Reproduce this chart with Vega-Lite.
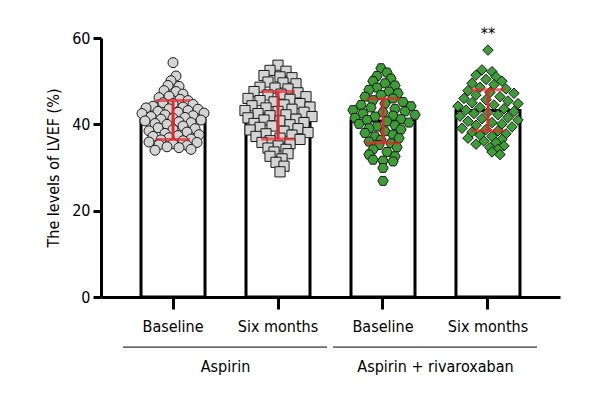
{
  "$schema": "https://vega.github.io/schema/vega-lite/v6.json",
  "autosize": {"type": "none"},
  "padding": {"left": 101, "top": 38, "right": 40, "bottom": 103},
  "width": 459,
  "height": 259,
  "background": "white",
  "config": {
    "font": "Liberation Sans Narrow, DejaVu Sans Condensed, sans-serif",
    "view": {"stroke": null},
    "axis": {
      "domainWidth": 3, "domainColor": "black", "tickWidth": 3, "tickColor": "black",
      "labelColor": "black", "titleColor": "black", "grid": false,
      "labelFont": "Liberation Sans Narrow, DejaVu Sans Condensed, sans-serif",
      "titleFont": "Liberation Sans Narrow, DejaVu Sans Condensed, sans-serif"
    }
  },
  "datasets": {
    "pts": [
      {"grp": "Aspirin|Baseline", "v": 54.3, "dx": 0},
      {"grp": "Aspirin|Baseline", "v": 51.2, "dx": 3},
      {"grp": "Aspirin|Baseline", "v": 50.1, "dx": -2},
      {"grp": "Aspirin|Baseline", "v": 49.0, "dx": -5},
      {"grp": "Aspirin|Baseline", "v": 48.8, "dx": 6},
      {"grp": "Aspirin|Baseline", "v": 47.8, "dx": -9},
      {"grp": "Aspirin|Baseline", "v": 47.6, "dx": 3},
      {"grp": "Aspirin|Baseline", "v": 47.0, "dx": 10},
      {"grp": "Aspirin|Baseline", "v": 46.5, "dx": -4},
      {"grp": "Aspirin|Baseline", "v": 46.2, "dx": -14},
      {"grp": "Aspirin|Baseline", "v": 45.8, "dx": 7},
      {"grp": "Aspirin|Baseline", "v": 45.5, "dx": 15},
      {"grp": "Aspirin|Baseline", "v": 45.0, "dx": -10},
      {"grp": "Aspirin|Baseline", "v": 44.8, "dx": 0},
      {"grp": "Aspirin|Baseline", "v": 44.6, "dx": 20},
      {"grp": "Aspirin|Baseline", "v": 44.2, "dx": -20},
      {"grp": "Aspirin|Baseline", "v": 44.0, "dx": 10},
      {"grp": "Aspirin|Baseline", "v": 43.8, "dx": -27},
      {"grp": "Aspirin|Baseline", "v": 43.6, "dx": -4},
      {"grp": "Aspirin|Baseline", "v": 43.5, "dx": 25},
      {"grp": "Aspirin|Baseline", "v": 43.2, "dx": 15},
      {"grp": "Aspirin|Baseline", "v": 43.0, "dx": -15},
      {"grp": "Aspirin|Baseline", "v": 42.8, "dx": 5},
      {"grp": "Aspirin|Baseline", "v": 42.6, "dx": 31},
      {"grp": "Aspirin|Baseline", "v": 42.5, "dx": -31},
      {"grp": "Aspirin|Baseline", "v": 42.2, "dx": -8},
      {"grp": "Aspirin|Baseline", "v": 42.0, "dx": 20},
      {"grp": "Aspirin|Baseline", "v": 41.8, "dx": -22},
      {"grp": "Aspirin|Baseline", "v": 41.6, "dx": 12},
      {"grp": "Aspirin|Baseline", "v": 41.4, "dx": 0},
      {"grp": "Aspirin|Baseline", "v": 41.2, "dx": -12},
      {"grp": "Aspirin|Baseline", "v": 41.0, "dx": 28},
      {"grp": "Aspirin|Baseline", "v": 40.8, "dx": -28},
      {"grp": "Aspirin|Baseline", "v": 40.6, "dx": 6},
      {"grp": "Aspirin|Baseline", "v": 40.4, "dx": 18},
      {"grp": "Aspirin|Baseline", "v": 40.2, "dx": -18},
      {"grp": "Aspirin|Baseline", "v": 40.0, "dx": -6},
      {"grp": "Aspirin|Baseline", "v": 39.6, "dx": 10},
      {"grp": "Aspirin|Baseline", "v": 39.2, "dx": -15},
      {"grp": "Aspirin|Baseline", "v": 39.0, "dx": 22},
      {"grp": "Aspirin|Baseline", "v": 38.8, "dx": 0},
      {"grp": "Aspirin|Baseline", "v": 38.5, "dx": -24},
      {"grp": "Aspirin|Baseline", "v": 38.2, "dx": 14},
      {"grp": "Aspirin|Baseline", "v": 37.9, "dx": -8},
      {"grp": "Aspirin|Baseline", "v": 37.6, "dx": 26},
      {"grp": "Aspirin|Baseline", "v": 37.4, "dx": 5},
      {"grp": "Aspirin|Baseline", "v": 37.2, "dx": -20},
      {"grp": "Aspirin|Baseline", "v": 36.9, "dx": -4},
      {"grp": "Aspirin|Baseline", "v": 36.6, "dx": 18},
      {"grp": "Aspirin|Baseline", "v": 36.4, "dx": -12},
      {"grp": "Aspirin|Baseline", "v": 36.2, "dx": 10},
      {"grp": "Aspirin|Baseline", "v": 35.9, "dx": -24},
      {"grp": "Aspirin|Baseline", "v": 35.8, "dx": 24},
      {"grp": "Aspirin|Baseline", "v": 35.5, "dx": 0},
      {"grp": "Aspirin|Baseline", "v": 35.3, "dx": -14},
      {"grp": "Aspirin|Baseline", "v": 35.1, "dx": 14},
      {"grp": "Aspirin|Baseline", "v": 34.8, "dx": -6},
      {"grp": "Aspirin|Baseline", "v": 34.6, "dx": 6},
      {"grp": "Aspirin|Baseline", "v": 34.2, "dx": 18},
      {"grp": "Aspirin|Baseline", "v": 34.0, "dx": -18},

      {"grp": "Aspirin|Six months", "v": 53.7, "dx": 0},
      {"grp": "Aspirin|Six months", "v": 52.5, "dx": -8},
      {"grp": "Aspirin|Six months", "v": 52.3, "dx": 8},
      {"grp": "Aspirin|Six months", "v": 51.3, "dx": -14},
      {"grp": "Aspirin|Six months", "v": 51.0, "dx": 2},
      {"grp": "Aspirin|Six months", "v": 50.8, "dx": 14},
      {"grp": "Aspirin|Six months", "v": 49.8, "dx": -10},
      {"grp": "Aspirin|Six months", "v": 49.6, "dx": 5},
      {"grp": "Aspirin|Six months", "v": 49.4, "dx": 18},
      {"grp": "Aspirin|Six months", "v": 48.6, "dx": -18},
      {"grp": "Aspirin|Six months", "v": 48.4, "dx": -3},
      {"grp": "Aspirin|Six months", "v": 48.2, "dx": 10},
      {"grp": "Aspirin|Six months", "v": 47.6, "dx": -24},
      {"grp": "Aspirin|Six months", "v": 47.3, "dx": 20},
      {"grp": "Aspirin|Six months", "v": 47.0, "dx": 3},
      {"grp": "Aspirin|Six months", "v": 46.8, "dx": -10},
      {"grp": "Aspirin|Six months", "v": 46.4, "dx": 28},
      {"grp": "Aspirin|Six months", "v": 46.0, "dx": -30},
      {"grp": "Aspirin|Six months", "v": 45.8, "dx": 12},
      {"grp": "Aspirin|Six months", "v": 45.5, "dx": -18},
      {"grp": "Aspirin|Six months", "v": 45.2, "dx": -4},
      {"grp": "Aspirin|Six months", "v": 44.8, "dx": 22},
      {"grp": "Aspirin|Six months", "v": 44.5, "dx": 6},
      {"grp": "Aspirin|Six months", "v": 44.3, "dx": -26},
      {"grp": "Aspirin|Six months", "v": 44.0, "dx": 32},
      {"grp": "Aspirin|Six months", "v": 43.8, "dx": -12},
      {"grp": "Aspirin|Six months", "v": 43.5, "dx": 14},
      {"grp": "Aspirin|Six months", "v": 43.2, "dx": -33},
      {"grp": "Aspirin|Six months", "v": 43.0, "dx": 0},
      {"grp": "Aspirin|Six months", "v": 42.8, "dx": 26},
      {"grp": "Aspirin|Six months", "v": 42.5, "dx": -20},
      {"grp": "Aspirin|Six months", "v": 42.2, "dx": 8},
      {"grp": "Aspirin|Six months", "v": 42.0, "dx": -8},
      {"grp": "Aspirin|Six months", "v": 41.8, "dx": 34},
      {"grp": "Aspirin|Six months", "v": 41.5, "dx": -30},
      {"grp": "Aspirin|Six months", "v": 41.2, "dx": 18},
      {"grp": "Aspirin|Six months", "v": 41.0, "dx": -14},
      {"grp": "Aspirin|Six months", "v": 40.8, "dx": 2},
      {"grp": "Aspirin|Six months", "v": 40.4, "dx": 26},
      {"grp": "Aspirin|Six months", "v": 40.2, "dx": -24},
      {"grp": "Aspirin|Six months", "v": 39.9, "dx": 12},
      {"grp": "Aspirin|Six months", "v": 39.6, "dx": -6},
      {"grp": "Aspirin|Six months", "v": 39.3, "dx": -18},
      {"grp": "Aspirin|Six months", "v": 39.0, "dx": 20},
      {"grp": "Aspirin|Six months", "v": 38.7, "dx": -28},
      {"grp": "Aspirin|Six months", "v": 38.4, "dx": 6},
      {"grp": "Aspirin|Six months", "v": 38.1, "dx": 30},
      {"grp": "Aspirin|Six months", "v": 37.8, "dx": -12},
      {"grp": "Aspirin|Six months", "v": 37.5, "dx": 14},
      {"grp": "Aspirin|Six months", "v": 37.2, "dx": -22},
      {"grp": "Aspirin|Six months", "v": 36.8, "dx": 2},
      {"grp": "Aspirin|Six months", "v": 36.5, "dx": 22},
      {"grp": "Aspirin|Six months", "v": 36.2, "dx": -8},
      {"grp": "Aspirin|Six months", "v": 35.8, "dx": -16},
      {"grp": "Aspirin|Six months", "v": 35.5, "dx": 12},
      {"grp": "Aspirin|Six months", "v": 35.0, "dx": 0},
      {"grp": "Aspirin|Six months", "v": 34.5, "dx": -10},
      {"grp": "Aspirin|Six months", "v": 34.2, "dx": 8},
      {"grp": "Aspirin|Six months", "v": 33.6, "dx": -4},
      {"grp": "Aspirin|Six months", "v": 33.2, "dx": 10},
      {"grp": "Aspirin|Six months", "v": 32.6, "dx": -8},
      {"grp": "Aspirin|Six months", "v": 32.0, "dx": 4},
      {"grp": "Aspirin|Six months", "v": 31.2, "dx": -2},
      {"grp": "Aspirin|Six months", "v": 30.3, "dx": 6},
      {"grp": "Aspirin|Six months", "v": 29.0, "dx": 2},

      {"grp": "Aspirin + rivaroxaban|Baseline", "v": 53.0, "dx": -2},
      {"grp": "Aspirin + rivaroxaban|Baseline", "v": 52.0, "dx": 4},
      {"grp": "Aspirin + rivaroxaban|Baseline", "v": 51.2, "dx": -6},
      {"grp": "Aspirin + rivaroxaban|Baseline", "v": 50.6, "dx": 8},
      {"grp": "Aspirin + rivaroxaban|Baseline", "v": 50.0, "dx": -10},
      {"grp": "Aspirin + rivaroxaban|Baseline", "v": 49.5, "dx": 2},
      {"grp": "Aspirin + rivaroxaban|Baseline", "v": 49.0, "dx": 12},
      {"grp": "Aspirin + rivaroxaban|Baseline", "v": 48.5, "dx": -6},
      {"grp": "Aspirin + rivaroxaban|Baseline", "v": 48.0, "dx": -14},
      {"grp": "Aspirin + rivaroxaban|Baseline", "v": 47.6, "dx": 6},
      {"grp": "Aspirin + rivaroxaban|Baseline", "v": 47.2, "dx": 15},
      {"grp": "Aspirin + rivaroxaban|Baseline", "v": 46.8, "dx": -2},
      {"grp": "Aspirin + rivaroxaban|Baseline", "v": 46.4, "dx": -18},
      {"grp": "Aspirin + rivaroxaban|Baseline", "v": 46.0, "dx": 10},
      {"grp": "Aspirin + rivaroxaban|Baseline", "v": 45.6, "dx": -10},
      {"grp": "Aspirin + rivaroxaban|Baseline", "v": 45.2, "dx": 20},
      {"grp": "Aspirin + rivaroxaban|Baseline", "v": 44.8, "dx": 2},
      {"grp": "Aspirin + rivaroxaban|Baseline", "v": 44.5, "dx": -22},
      {"grp": "Aspirin + rivaroxaban|Baseline", "v": 44.2, "dx": 28},
      {"grp": "Aspirin + rivaroxaban|Baseline", "v": 43.9, "dx": -12},
      {"grp": "Aspirin + rivaroxaban|Baseline", "v": 43.6, "dx": 12},
      {"grp": "Aspirin + rivaroxaban|Baseline", "v": 43.3, "dx": -30},
      {"grp": "Aspirin + rivaroxaban|Baseline", "v": 43.0, "dx": 22},
      {"grp": "Aspirin + rivaroxaban|Baseline", "v": 42.8, "dx": 0},
      {"grp": "Aspirin + rivaroxaban|Baseline", "v": 42.5, "dx": -20},
      {"grp": "Aspirin + rivaroxaban|Baseline", "v": 42.2, "dx": 32},
      {"grp": "Aspirin + rivaroxaban|Baseline", "v": 42.0, "dx": 10},
      {"grp": "Aspirin + rivaroxaban|Baseline", "v": 41.8, "dx": -8},
      {"grp": "Aspirin + rivaroxaban|Baseline", "v": 41.5, "dx": -28},
      {"grp": "Aspirin + rivaroxaban|Baseline", "v": 41.2, "dx": 18},
      {"grp": "Aspirin + rivaroxaban|Baseline", "v": 41.0, "dx": -16},
      {"grp": "Aspirin + rivaroxaban|Baseline", "v": 40.7, "dx": 4},
      {"grp": "Aspirin + rivaroxaban|Baseline", "v": 40.4, "dx": 26},
      {"grp": "Aspirin + rivaroxaban|Baseline", "v": 40.1, "dx": -24},
      {"grp": "Aspirin + rivaroxaban|Baseline", "v": 39.8, "dx": 12},
      {"grp": "Aspirin + rivaroxaban|Baseline", "v": 39.5, "dx": -6},
      {"grp": "Aspirin + rivaroxaban|Baseline", "v": 39.1, "dx": -14},
      {"grp": "Aspirin + rivaroxaban|Baseline", "v": 38.8, "dx": 18},
      {"grp": "Aspirin + rivaroxaban|Baseline", "v": 38.4, "dx": 2},
      {"grp": "Aspirin + rivaroxaban|Baseline", "v": 38.0, "dx": -18},
      {"grp": "Aspirin + rivaroxaban|Baseline", "v": 37.6, "dx": 10},
      {"grp": "Aspirin + rivaroxaban|Baseline", "v": 37.2, "dx": -8},
      {"grp": "Aspirin + rivaroxaban|Baseline", "v": 36.8, "dx": 16},
      {"grp": "Aspirin + rivaroxaban|Baseline", "v": 36.4, "dx": -2},
      {"grp": "Aspirin + rivaroxaban|Baseline", "v": 36.0, "dx": -14},
      {"grp": "Aspirin + rivaroxaban|Baseline", "v": 35.6, "dx": 8},
      {"grp": "Aspirin + rivaroxaban|Baseline", "v": 35.2, "dx": -4},
      {"grp": "Aspirin + rivaroxaban|Baseline", "v": 34.7, "dx": 14},
      {"grp": "Aspirin + rivaroxaban|Baseline", "v": 34.2, "dx": -10},
      {"grp": "Aspirin + rivaroxaban|Baseline", "v": 33.6, "dx": 4},
      {"grp": "Aspirin + rivaroxaban|Baseline", "v": 33.0, "dx": -14},
      {"grp": "Aspirin + rivaroxaban|Baseline", "v": 32.6, "dx": 12},
      {"grp": "Aspirin + rivaroxaban|Baseline", "v": 31.8, "dx": -10},
      {"grp": "Aspirin + rivaroxaban|Baseline", "v": 31.6, "dx": 0},
      {"grp": "Aspirin + rivaroxaban|Baseline", "v": 31.4, "dx": 10},
      {"grp": "Aspirin + rivaroxaban|Baseline", "v": 29.9, "dx": 0},
      {"grp": "Aspirin + rivaroxaban|Baseline", "v": 26.9, "dx": 0},

      {"grp": "Aspirin + rivaroxaban|Six months", "v": 57.2, "dx": 0},
      {"grp": "Aspirin + rivaroxaban|Six months", "v": 52.6, "dx": -6},
      {"grp": "Aspirin + rivaroxaban|Six months", "v": 52.2, "dx": 4},
      {"grp": "Aspirin + rivaroxaban|Six months", "v": 51.4, "dx": -12},
      {"grp": "Aspirin + rivaroxaban|Six months", "v": 51.0, "dx": 8},
      {"grp": "Aspirin + rivaroxaban|Six months", "v": 50.4, "dx": -2},
      {"grp": "Aspirin + rivaroxaban|Six months", "v": 50.0, "dx": 14},
      {"grp": "Aspirin + rivaroxaban|Six months", "v": 49.5, "dx": -16},
      {"grp": "Aspirin + rivaroxaban|Six months", "v": 49.2, "dx": 6},
      {"grp": "Aspirin + rivaroxaban|Six months", "v": 48.6, "dx": -8},
      {"grp": "Aspirin + rivaroxaban|Six months", "v": 48.2, "dx": 18},
      {"grp": "Aspirin + rivaroxaban|Six months", "v": 47.8, "dx": -20},
      {"grp": "Aspirin + rivaroxaban|Six months", "v": 47.4, "dx": 2},
      {"grp": "Aspirin + rivaroxaban|Six months", "v": 47.2, "dx": 26},
      {"grp": "Aspirin + rivaroxaban|Six months", "v": 46.8, "dx": -12},
      {"grp": "Aspirin + rivaroxaban|Six months", "v": 46.4, "dx": 12},
      {"grp": "Aspirin + rivaroxaban|Six months", "v": 46.0, "dx": -24},
      {"grp": "Aspirin + rivaroxaban|Six months", "v": 45.7, "dx": -2},
      {"grp": "Aspirin + rivaroxaban|Six months", "v": 45.4, "dx": 20},
      {"grp": "Aspirin + rivaroxaban|Six months", "v": 45.0, "dx": -16},
      {"grp": "Aspirin + rivaroxaban|Six months", "v": 44.8, "dx": 30},
      {"grp": "Aspirin + rivaroxaban|Six months", "v": 44.5, "dx": 6},
      {"grp": "Aspirin + rivaroxaban|Six months", "v": 44.2, "dx": -30},
      {"grp": "Aspirin + rivaroxaban|Six months", "v": 43.9, "dx": -8},
      {"grp": "Aspirin + rivaroxaban|Six months", "v": 43.6, "dx": 16},
      {"grp": "Aspirin + rivaroxaban|Six months", "v": 43.3, "dx": -22},
      {"grp": "Aspirin + rivaroxaban|Six months", "v": 43.0, "dx": 26},
      {"grp": "Aspirin + rivaroxaban|Six months", "v": 42.8, "dx": 0},
      {"grp": "Aspirin + rivaroxaban|Six months", "v": 42.5, "dx": -14},
      {"grp": "Aspirin + rivaroxaban|Six months", "v": 42.2, "dx": 10},
      {"grp": "Aspirin + rivaroxaban|Six months", "v": 41.9, "dx": -28},
      {"grp": "Aspirin + rivaroxaban|Six months", "v": 41.6, "dx": 20},
      {"grp": "Aspirin + rivaroxaban|Six months", "v": 41.3, "dx": -6},
      {"grp": "Aspirin + rivaroxaban|Six months", "v": 41.0, "dx": 30},
      {"grp": "Aspirin + rivaroxaban|Six months", "v": 40.7, "dx": -20},
      {"grp": "Aspirin + rivaroxaban|Six months", "v": 40.4, "dx": 4},
      {"grp": "Aspirin + rivaroxaban|Six months", "v": 40.1, "dx": 14},
      {"grp": "Aspirin + rivaroxaban|Six months", "v": 39.8, "dx": -12},
      {"grp": "Aspirin + rivaroxaban|Six months", "v": 39.4, "dx": 24},
      {"grp": "Aspirin + rivaroxaban|Six months", "v": 39.1, "dx": -26},
      {"grp": "Aspirin + rivaroxaban|Six months", "v": 38.8, "dx": -2},
      {"grp": "Aspirin + rivaroxaban|Six months", "v": 38.5, "dx": 10},
      {"grp": "Aspirin + rivaroxaban|Six months", "v": 38.2, "dx": -16},
      {"grp": "Aspirin + rivaroxaban|Six months", "v": 37.8, "dx": 18},
      {"grp": "Aspirin + rivaroxaban|Six months", "v": 37.5, "dx": -8},
      {"grp": "Aspirin + rivaroxaban|Six months", "v": 37.2, "dx": 4},
      {"grp": "Aspirin + rivaroxaban|Six months", "v": 36.8, "dx": -20},
      {"grp": "Aspirin + rivaroxaban|Six months", "v": 36.5, "dx": 14},
      {"grp": "Aspirin + rivaroxaban|Six months", "v": 36.1, "dx": -4},
      {"grp": "Aspirin + rivaroxaban|Six months", "v": 35.8, "dx": 8},
      {"grp": "Aspirin + rivaroxaban|Six months", "v": 35.4, "dx": -12},
      {"grp": "Aspirin + rivaroxaban|Six months", "v": 35.0, "dx": 16},
      {"grp": "Aspirin + rivaroxaban|Six months", "v": 34.6, "dx": 2},
      {"grp": "Aspirin + rivaroxaban|Six months", "v": 34.2, "dx": 10},
      {"grp": "Aspirin + rivaroxaban|Six months", "v": 33.6, "dx": 4},
      {"grp": "Aspirin + rivaroxaban|Six months", "v": 33.0, "dx": 12}
    ],
    "summ": [
      {"grp": "Aspirin|Baseline", "mean": 41.0, "lo": 36.5, "hi": 45.5},
      {"grp": "Aspirin|Six months", "mean": 42.1, "lo": 36.6, "hi": 47.6},
      {"grp": "Aspirin + rivaroxaban|Baseline", "mean": 40.8, "lo": 35.7, "hi": 45.9},
      {"grp": "Aspirin + rivaroxaban|Six months", "mean": 43.2, "lo": 38.5, "hi": 48.0}
    ],
    "groups": [
      {"name": "Aspirin", "first": "Aspirin|Baseline", "last": "Aspirin|Six months"},
      {"name": "Aspirin + rivaroxaban", "first": "Aspirin + rivaroxaban|Baseline", "last": "Aspirin + rivaroxaban|Six months"}
    ]
  },
  "layer": [
    {
      "data": {"name": "summ"},
      "mark": {"type": "bar", "fill": "white", "stroke": "black", "strokeWidth": 3, "width": 64},
      "encoding": {
        "x": {
          "field": "grp", "type": "nominal", "sort": null,
          "scale": {"domain": ["Aspirin|Baseline", "Aspirin|Six months", "Aspirin + rivaroxaban|Baseline", "Aspirin + rivaroxaban|Six months"], "paddingInner": 0, "paddingOuter": 0.186},
          "axis": {"title": null, "labelAngle": 0, "labelExpr": "split(datum.label, '|')[1]", "labelFontSize": 16, "tickSize": 12, "labelPadding": 9, "labelBaseline": "top"}
        },
        "y": {
          "field": "mean", "type": "quantitative",
          "scale": {"domain": [0, 60], "nice": false, "zero": true},
          "axis": {"values": [0, 20, 40, 60], "title": "The levels of LVEF (%)", "titleFontSize": 16, "titleFontWeight": "normal", "titlePadding": 10, "labelFontSize": 16, "tickSize": 8, "labelPadding": 3}
        }
      }
    },
    {
      "data": {"name": "pts"},
      "mark": {"type": "point", "filled": true, "stroke": "#1a1a1a", "strokeWidth": 1, "opacity": 1},
      "encoding": {
        "x": {"field": "grp", "type": "nominal"},
        "xOffset": {"field": "dx", "type": "quantitative", "scale": {"domain": [-52.5, 52.5]}},
        "y": {"field": "v", "type": "quantitative"},
        "shape": {"field": "grp", "type": "nominal", "legend": null,
          "scale": {"domain": ["Aspirin|Baseline", "Aspirin|Six months", "Aspirin + rivaroxaban|Baseline", "Aspirin + rivaroxaban|Six months"],
            "range": ["circle", "square", "M-1,0L-0.5,-0.866L0.5,-0.866L1,0L0.5,0.866L-0.5,0.866Z", "diamond"]}},
        "fill": {"field": "grp", "type": "nominal", "legend": null,
          "scale": {"domain": ["Aspirin|Baseline", "Aspirin|Six months", "Aspirin + rivaroxaban|Baseline", "Aspirin + rivaroxaban|Six months"],
            "range": ["#d4d4d4", "#d4d4d4", "#3c9f36", "#3c9f36"]}},
        "size": {"field": "grp", "type": "nominal", "legend": null,
          "scale": {"domain": ["Aspirin|Baseline", "Aspirin|Six months", "Aspirin + rivaroxaban|Baseline", "Aspirin + rivaroxaban|Six months"],
            "range": [100, 110, 121, 160]}}
      }
    },
    {
      "data": {"name": "summ"},
      "mark": {"type": "rule", "color": "#e8262b", "strokeWidth": 3},
      "encoding": {
        "x": {"field": "grp", "type": "nominal"},
        "y": {"field": "lo", "type": "quantitative"},
        "y2": {"field": "hi"}
      }
    },
    {
      "data": {"name": "summ"},
      "mark": {"type": "tick", "color": "#e8262b", "thickness": 3, "size": 34},
      "encoding": {
        "x": {"field": "grp", "type": "nominal"},
        "y": {"field": "lo", "type": "quantitative"}
      }
    },
    {
      "data": {"name": "summ"},
      "mark": {"type": "tick", "color": "#e8262b", "thickness": 3, "size": 34},
      "encoding": {
        "x": {"field": "grp", "type": "nominal"},
        "y": {"field": "hi", "type": "quantitative"}
      }
    },
    {
      "data": {"values": [{"grp": "Aspirin + rivaroxaban|Six months", "label": "**"}]},
      "mark": {"type": "text", "fontSize": 16, "baseline": "middle", "color": "black"},
      "encoding": {
        "x": {"field": "grp", "type": "nominal"},
        "y": {"datum": 61.0},
        "text": {"field": "label"}
      }
    },
    {
      "data": {"name": "groups"},
      "mark": {"type": "rule", "color": "black", "strokeWidth": 1},
      "encoding": {
        "x": {"field": "first", "type": "nominal", "bandPosition": 0.024},
        "x2": {"field": "last", "bandPosition": 0.967},
        "y": {"datum": -11.6}
      }
    },
    {
      "data": {"name": "groups"},
      "mark": {"type": "text", "fontSize": 16, "baseline": "middle", "color": "black"},
      "encoding": {
        "x": {"field": "first", "type": "nominal", "bandPosition": 1},
        "y": {"datum": -16.2},
        "text": {"field": "name"}
      }
    }
  ]
}
